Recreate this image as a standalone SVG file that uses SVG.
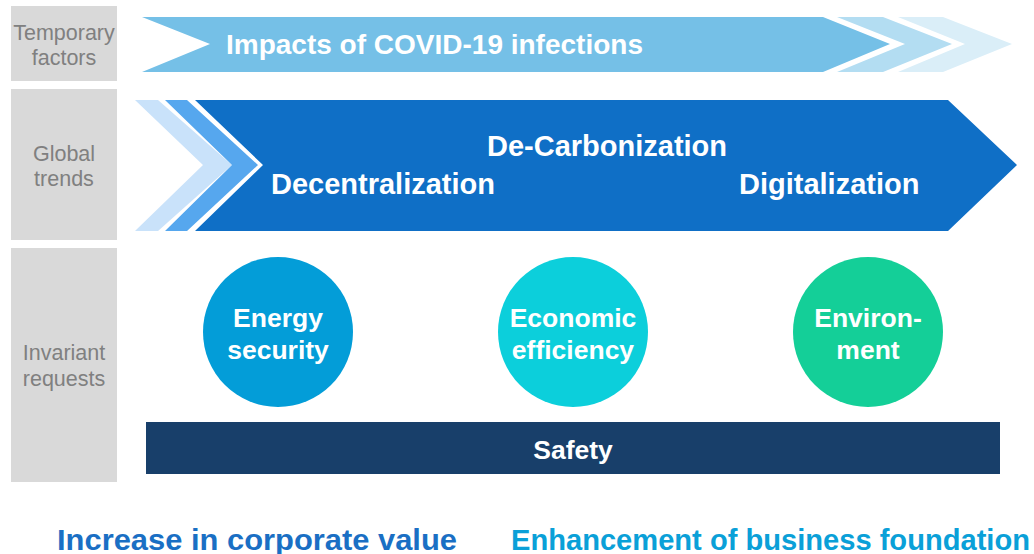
<svg xmlns="http://www.w3.org/2000/svg" width="1034" height="554" viewBox="0 0 1034 554">
  <style>
    .lbl { fill: #d9d9d9; }
    .lbltxt { font-family: "Liberation Sans", Arial, sans-serif; font-size: 21.5px; fill: #808080; text-anchor: middle; }
    .w { font-family: "Liberation Sans", Arial, sans-serif; font-weight: bold; fill: #ffffff; }
    .c { font-size: 26.5px; text-anchor: middle; }
    .bot { font-family: "Liberation Sans", Arial, sans-serif; font-weight: bold; font-size: 30px; }
  </style>
  <rect width="1034" height="554" fill="#ffffff"/>

  <!-- row labels -->
  <g id="label-temporary">
    <rect class="lbl" x="11" y="6" width="106" height="75"/>
    <text class="lbltxt" x="64" y="40">Temporary</text>
    <text class="lbltxt" x="64" y="65">factors</text>
  </g>
  <g id="label-global">
    <rect class="lbl" x="11" y="89" width="106" height="151"/>
    <text class="lbltxt" x="64" y="161">Global</text>
    <text class="lbltxt" x="64" y="186">trends</text>
  </g>
  <g id="label-invariant">
    <rect class="lbl" x="11" y="248" width="106" height="234"/>
    <text class="lbltxt" x="64" y="360">Invariant</text>
    <text class="lbltxt" x="64" y="386">requests</text>
  </g>

  <!-- temporary factors arrow -->
  <g id="covid">
    <polygon points="898,17 943,17 1012,44 943,72 898,72 965,44" fill="#daeef8"/>
    <polygon points="837,17 883,17 952,44 883,72 837,72 905,44" fill="#b3ddf2"/>
    <polygon points="142,17 823,17 890,44 823,72 142,72 210,44" fill="#75c0e7"/>
    <text class="w" x="226" y="54" font-size="28">Impacts of COVID-19 infections</text>
  </g>

  <!-- global trends arrow -->
  <g id="trends">
    <polygon points="135,100 158,100 232,165 158,231 135,231 203,165" fill="#c9e2fa"/>
    <polygon points="165,100 187,100 258,165 187,231 165,231 232,165" fill="#56a7ee"/>
    <polygon points="195,100 948,100 1017,165 948,231 195,231 263,165" fill="#0f6fc6"/>
    <text class="w" x="607" y="156" font-size="29" text-anchor="middle">De-Carbonization</text>
    <text class="w" x="271" y="194" font-size="29">Decentralization</text>
    <text class="w" x="739" y="194" font-size="29">Digitalization</text>
  </g>

  <!-- invariant requests -->
  <g id="energy-security">
    <circle cx="278" cy="332" r="75" fill="#039dd8"/>
    <text class="w c" x="278" y="327">Energy</text>
    <text class="w c" x="278" y="359">security</text>
  </g>
  <g id="economic-efficiency">
    <circle cx="573" cy="332" r="75" fill="#0ccfdb"/>
    <text class="w c" x="573" y="327">Economic</text>
    <text class="w c" x="573" y="359">efficiency</text>
  </g>
  <g id="environment">
    <circle cx="868" cy="332" r="75" fill="#14cf98"/>
    <text class="w c" x="868" y="327">Environ-</text>
    <text class="w c" x="868" y="359">ment</text>
  </g>
  <g id="safety">
    <rect x="146" y="422" width="854" height="52" fill="#183f6a"/>
    <text class="w c" x="573" y="459" font-size="25">Safety</text>
  </g>

  <!-- outcomes -->
  <g id="outcomes">
    <text class="bot" x="57" y="550" fill="#1a6fc4" textLength="400" lengthAdjust="spacingAndGlyphs">Increase in corporate value</text>
    <text class="bot" x="511" y="550" fill="#0aa0d8" textLength="519" lengthAdjust="spacingAndGlyphs">Enhancement of business foundation</text>
  </g>
</svg>
